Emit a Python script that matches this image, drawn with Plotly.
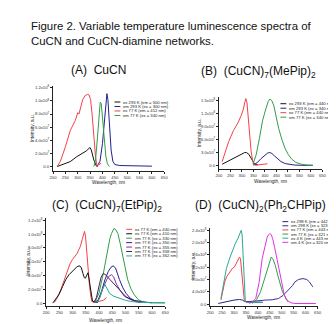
import plotly.graph_objects as go

W, H = 336, 324

# ---------------- DATA (intensities in units of 1e7) ----------------
# Panel A: CuCN
a_ex293_nm = [217, 240, 270, 296, 310, 336, 349, 355, 365, 375, 380]
a_ex293_v = [0, 0.3, 0.75, 1.5, 1.8, 2.4, 2.9, 2.5, 1.0, 0.1, 0]
a_em293_nm = [378, 390, 400, 408, 414, 418, 422, 428, 435, 442, 450, 470, 500, 550, 600]
a_em293_v = [0, 0.8, 3.5, 7.5, 10.5, 11.1, 10.2, 6.5, 2.5, 0.8, 0.3, 0.15, 0.1, 0.05, 0.05]
a_ex77_nm = [217, 230, 250, 270, 290, 300, 305, 312, 320, 330, 340, 346, 352, 358, 365, 372, 378, 385, 395]
a_ex77_v = [0, 0.8, 3.0, 5.5, 7.0, 8.2, 8.0, 9.0, 10.2, 10.8, 11.0, 10.9, 10.2, 8.0, 4.5, 1.5, 0, 0.3, 0.5]
a_em77_nm = [365, 372, 380, 386, 391, 395, 400, 407, 414, 420, 428]
a_em77_v = [0, 1.0, 4.5, 8.5, 9.8, 9.6, 7.5, 4.0, 1.5, 0.4, 0]
a_labels = ["ex 293 K (em = 500 nm)", "em 293 K (ex = 300 nm)",
            "ex 77 K (em = 412 nm)", "em 77 K (ex = 340 nm)"]

# Panel B: (CuCN)7(MePip)2
b_ex293_nm = [214, 240, 265, 290, 312, 320, 330, 342, 355, 369]
b_ex293_v = [0.3, 1.0, 1.7, 2.4, 3.0, 3.0, 2.6, 1.5, 0.3, 0.15]
b_em293_nm = [348, 365, 383, 400, 412, 421, 430, 442, 453, 470, 488, 510, 530, 560, 608]
b_em293_v = [0.1, 0.6, 1.6, 2.4, 2.9, 3.0, 2.8, 2.2, 1.6, 0.9, 0.45, 0.2, 0.1, 0.05, 0.05]
b_ex77_nm = [214, 228, 242, 263, 284, 296, 305, 312, 317, 322, 327, 334, 340, 347, 352, 362, 380, 400, 411]
b_ex77_v = [0.9, 3.0, 5.5, 8.1, 10.0, 11.5, 12.8, 14.5, 15.5, 14.5, 11.5, 6.0, 3.2, 1.0, 0.15, 0.1, 0.2, 0.3, 0.4]
b_em77_nm = [348, 362, 376, 390, 404, 414, 422, 430, 439, 450, 460, 475, 488, 502, 516, 535, 558, 585, 608]
b_em77_v = [0.3, 2.5, 6.3, 10.5, 13.1, 14.8, 15.4, 15.0, 13.8, 11.0, 8.5, 5.8, 3.9, 2.5, 1.5, 0.7, 0.3, 0.1, 0.05]
b_labels = ["ex 293 K (em = 440 nm)", "em 293 K (ex = 340 nm)",
            "ex 77 K (em = 440 nm)", "em 77 K (ex = 340 nm)"]

# Panel C: (CuCN)7(EtPip)2
c_ex77a_nm = [231, 243, 255, 268, 280, 290, 299, 308, 317, 324, 329, 336, 342, 345, 349, 354, 359, 364, 369, 373, 385, 400, 416, 428]
c_ex77a_v = [0.1, 0.8, 1.9, 3.4, 4.8, 5.7, 6.3, 6.8, 7.2, 7.8, 8.2, 9.2, 10.1, 10.4, 9.6, 6.7, 4.0, 2.4, 0.9, 0.2, 0.1, 0.2, 0.4, 0.8]
c_ex77b_nm = [225, 237, 249, 262, 274, 286, 299, 308, 317, 327, 333, 339, 344, 348, 353, 358, 362, 366, 370, 375, 385, 395]
c_ex77b_v = [0, 0.7, 1.3, 2.4, 3.4, 4.1, 4.6, 5.0, 5.3, 5.4, 5.1, 4.3, 3.7, 3.6, 4.1, 4.4, 3.5, 2.4, 1.0, 0.3, 0.15, 0.1]
c_em330_nm = [385, 400, 416, 425, 434, 441, 447, 452, 456, 462, 471, 480, 490, 500, 508, 520, 533, 548, 564, 600, 650]
c_em330_v = [0.2, 1.5, 4.3, 6.3, 8.2, 9.4, 10.1, 10.6, 10.8, 10.7, 10.1, 8.6, 6.7, 4.8, 3.4, 2.1, 1.2, 0.5, 0.2, 0.05, 0.02]
c_em350_nm = [385, 397, 410, 422, 435, 445, 453, 462, 477, 490, 502, 518, 533, 555, 576, 600]
c_em350_v = [0.1, 0.5, 1.8, 3.4, 4.6, 5.2, 5.4, 5.1, 3.4, 2.2, 1.4, 0.7, 0.4, 0.2, 0.1, 0.05]
c_em355_nm = [385, 400, 415, 430, 440, 447, 455, 465, 477, 495, 514, 535, 560]
c_em355_v = [0.1, 0.6, 2.2, 3.5, 4.0, 4.1, 3.8, 2.8, 2.0, 1.0, 0.6, 0.3, 0.1]
c_em358_nm = [380, 390, 400, 408, 416, 425, 434, 450, 465, 485, 502, 520, 539, 560]
c_em358_v = [0.1, 0.8, 2.5, 3.8, 4.3, 4.1, 3.7, 3.0, 2.4, 1.6, 0.9, 0.5, 0.2, 0.1]
c_em362_nm = [385, 397, 405, 413, 422, 430, 440, 455, 477, 500, 527, 560, 600, 650]
c_em362_v = [0.1, 0.3, 1.0, 2.0, 2.7, 2.2, 1.4, 1.0, 0.7, 0.4, 0.2, 0.1, 0.05, 0.05]
c_labels = ["ex 77 K (em = 440 nm)", "ex 77 K (em = 410 nm)", "em 77 K (ex = 330 nm)",
            "em 77 K (ex = 350 nm)", "em 77 K (ex = 355 nm)", "em 77 K (ex = 358 nm)",
            "em 77 K (ex = 362 nm)"]

# Panel D: (CuCN)2(Ph2CHPip)
d_ex298_nm = [234, 260, 282, 300, 323, 335, 343, 360, 377, 400, 420]
d_ex298_v = [0.2, 0.7, 1.1, 1.3, 1.5, 1.3, 0.9, 0.7, 0.6, 0.6, 0.6]
d_em298_nm = [350, 380, 410, 432, 460, 486, 505, 527, 545, 555, 570, 589, 605, 616, 630]
d_em298_v = [0.7, 1.0, 1.2, 1.3, 1.4, 1.8, 2.8, 4.5, 6.0, 7.2, 8.0, 8.3, 8.0, 7.2, 5.6]
d_ex77_nm = [245, 253, 261, 270, 282, 292, 302, 312, 318, 323, 327, 330, 334, 338, 343, 350, 370, 400, 420]
d_ex77_v = [1.3, 4.0, 7.2, 9.0, 10.5, 11.5, 12.1, 13.5, 14.8, 15.3, 14.8, 12.0, 8.3, 4.0, 1.3, 0.6, 0.5, 0.6, 0.5]
d_em77_nm = [377, 395, 411, 425, 439, 448, 456, 464, 473, 483, 493, 503, 514, 527]
d_em77_v = [0.2, 1.5, 4.0, 7.5, 11.6, 14.0, 15.3, 14.5, 12.6, 9.5, 6.7, 4.0, 2.4, 0.7]
d_ex4_nm = [245, 256, 268, 282, 295, 306, 316, 324, 330, 334, 337, 340, 343, 347, 352, 360, 380, 400, 420]
d_ex4_v = [1.8, 6.5, 11.6, 15.0, 18.0, 19.8, 21.3, 23.0, 24.0, 22.5, 18.0, 11.0, 6.2, 1.3, 0.5, 0.5, 0.4, 0.5, 0.5]
d_em4_nm = [364, 378, 391, 405, 418, 430, 439, 445, 450, 456, 462, 470, 480, 490, 500, 510, 520, 540, 555, 600, 643]
d_em4_v = [0.2, 0.8, 1.8, 7.0, 14.8, 19.5, 21.8, 22.6, 22.9, 22.6, 21.3, 18.5, 14.8, 10.0, 6.2, 3.2, 1.3, 0.4, 0.2, 0.2, 0.2]
d_labels = ["ex 298 K (em = 442 nm)", "em 298 K (ex = 323 nm)", "ex 77 K (em = 443 nm)",
            "em 77 K (ex = 321 nm)", "ex 4 K (em = 443 nm)", "em 4 K (ex = 320 nm)"]

x_ticks = [200, 250, 300, 350, 400, 450, 500, 550, 600, 650]
a_yticks = [0, 2e7, 4e7, 6e7, 8e7, 1.0e8, 1.2e8]
a_yticktext = ["0.0", "2.0x10<sup>7</sup>", "4.0x10<sup>7</sup>", "6.0x10<sup>7</sup>",
               "8.0x10<sup>7</sup>", "1.0x10<sup>8</sup>", "1.2x10<sup>8</sup>"]
b_yticks = [0, 3e7, 6e7, 9e7, 1.2e8, 1.5e8]
b_yticktext = ["0.0", "3.0x10<sup>7</sup>", "6.0x10<sup>7</sup>", "9.0x10<sup>7</sup>",
               "1.2x10<sup>8</sup>", "1.5x10<sup>8</sup>"]
c_yticks = a_yticks
c_yticktext = a_yticktext
d_yticks = [0, 4e7, 8e7, 1.2e8, 1.6e8, 2.0e8, 2.4e8]
d_yticktext = ["0.0", "4.0x10<sup>7</sup>", "8.0x10<sup>7</sup>", "1.2x10<sup>8</sup>",
               "1.6x10<sup>8</sup>", "2.0x10<sup>8</sup>", "2.4x10<sup>8</sup>"]

titles = ["(A)  CuCN", "(B)  (CuCN)<sub>7</sub>(MePip)<sub>2</sub>",
          "(C)  (CuCN)<sub>7</sub>(EtPip)<sub>2</sub>", "(D)  (CuCN)<sub>2</sub>(Ph<sub>2</sub>CHPip)"]

# ---------------- FIGURE ----------------
BLACK = "#111111"; NAVY = "#22228a"; RED = "#f5404a"; GREEN = "#2f9e4a"
PURPLE = "#7a2fa8"; DPURPLE = "#4a1f4a"; TEAL = "#2aa79a"; MAG = "#e62ee6"; BLUE2 = "#3a2fa0"

panels = [
    dict(ax="", series=[(a_ex293_nm, a_ex293_v, BLACK), (a_em293_nm, a_em293_v, NAVY),
                        (a_ex77_nm, a_ex77_v, RED), (a_em77_nm, a_em77_v, GREEN)],
         labels=a_labels, yt=a_yticks, ytt=a_yticktext,
         px=(42, 156), py=(77, 162), y0=158, ytop=79,
         leg=(105, 93.3, 4.5), title=(89, 61), ytitle=(21, 120), xtitle=(99, 174.5)),
    dict(ax="2", series=[(b_ex293_nm, b_ex293_v, BLACK), (b_em293_nm, b_em293_v, NAVY),
                         (b_ex77_nm, b_ex77_v, RED), (b_em77_nm, b_em77_v, GREEN)],
         labels=b_labels, yt=b_yticks, ytt=b_yticktext,
         px=(212, 318), py=(88, 160), y0=157, ytop=92,
         leg=(275, 95, 4.5), title=(252, 63), ytitle=(192, 124), xtitle=(265, 173.5)),
    dict(ax="3", series=[(c_ex77a_nm, c_ex77a_v, RED), (c_ex77b_nm, c_ex77b_v, BLACK),
                         (c_em330_nm, c_em330_v, GREEN), (c_em350_nm, c_em350_v, NAVY),
                         (c_em355_nm, c_em355_v, PURPLE), (c_em358_nm, c_em358_v, DPURPLE),
                         (c_em362_nm, c_em362_v, TEAL)],
         labels=c_labels, yt=c_yticks, ytt=c_yticktext,
         px=(35, 157), py=(210, 298), y0=295, ytop=212,
         leg=(117, 221, 4.45), title=(97, 198), ytitle=(17, 254), xtitle=(96, 312)),
    dict(ax="4", series=[(d_ex298_nm, d_ex298_v, NAVY), (d_em298_nm, d_em298_v, BLUE2),
                         (d_ex77_nm, d_ex77_v, RED), (d_em77_nm, d_em77_v, GREEN),
                         (d_ex4_nm, d_ex4_v, TEAL), (d_em4_nm, d_em4_v, MAG)],
         labels=d_labels, yt=d_yticks, ytt=d_yticktext,
         px=(203, 313), py=(220, 298), y0=296, ytop=222,
         leg=(277, 213.3, 4.15), title=(255, 198), ytitle=(186, 258), xtitle=(258, 309)),
]

fig = go.Figure()
layout = dict(width=W, height=H, margin=dict(l=0, r=0, t=0, b=0),
              paper_bgcolor="white", plot_bgcolor="white", showlegend=False,
              font=dict(family="Arial, Liberation Sans, sans-serif", color="#222"))
annotations = []
shapes = []

def px2x(p):
    return p / W

def py2y(p):
    return 1 - p / H

for P in panels:
    ax = P["ax"]
    for (nm, v, col), lab in zip(P["series"], P["labels"]):
        fig.add_trace(go.Scatter(x=nm, y=[val * 1e7 for val in v], mode="lines", name=lab,
                                 line=dict(color=col, width=1),
                                 xaxis="x" + ax, yaxis="y" + ax))
    x0p, x1p = P["px"]
    ytp, ybp = P["py"]
    ytv = P["yt"][-1]
    scale = (P["y0"] - P["ytop"]) / ytv  # px per unit
    ymin = -(ybp - P["y0"]) / scale
    ymax = (P["y0"] - ytp) / scale
    layout["xaxis" + ax] = dict(domain=[px2x(x0p), px2x(x1p)], range=[200, 650],
                                anchor="y" + ax, showline=True, linecolor="#222", linewidth=1,
                                ticks="outside", ticklen=2, tickwidth=0.8, tickcolor="#222",
                                tickvals=x_ticks, tickfont=dict(size=4.2, color="#333"),
                                showgrid=False, zeroline=False)
    layout["yaxis" + ax] = dict(domain=[py2y(ybp), py2y(ytp)], range=[ymin, ymax],
                                anchor="x" + ax, showline=True, linecolor="#222", linewidth=1,
                                ticks="outside", ticklen=2, tickwidth=0.8, tickcolor="#222",
                                tickvals=P["yt"], ticktext=P["ytt"],
                                tickfont=dict(size=4.2, color="#333"),
                                showgrid=False, zeroline=False)
    # subplot title
    tx, ty = P["title"]
    annotations.append(dict(x=px2x(tx), y=py2y(ty), xref="paper", yref="paper",
                            text=titles[int(ax or 1) - 1], showarrow=False,
                            xanchor="center", yanchor="middle",
                            font=dict(size=12, color="#111")))
    # axis titles
    yx, yy = P["ytitle"]
    annotations.append(dict(x=px2x(yx), y=py2y(yy), xref="paper", yref="paper",
                            text="Intensity, a.u.", showarrow=False, textangle=-90,
                            xanchor="center", yanchor="middle", font=dict(size=4.8, color="#222")))
    xx, xy = P["xtitle"]
    annotations.append(dict(x=px2x(xx), y=py2y(xy), xref="paper", yref="paper",
                            text="Wavelength, nm", showarrow=False,
                            xanchor="center", yanchor="middle", font=dict(size=4.6, color="#222")))
    # legend (drawn manually: small line + label)
    lx, ly, dy = P["leg"]
    for i, ((nm, v, col), lab) in enumerate(zip(P["series"], P["labels"])):
        yy_ = ly + i * dy
        shapes.append(dict(type="line", xref="paper", yref="paper",
                           x0=px2x(lx), x1=px2x(lx + 6), y0=py2y(yy_), y1=py2y(yy_),
                           line=dict(color=col, width=1)))
        annotations.append(dict(x=px2x(lx + 7), y=py2y(yy_), xref="paper", yref="paper",
                                text=lab, showarrow=False, xanchor="left", yanchor="middle",
                                font=dict(size=4.2, color="#222")))

# Figure caption
annotations.append(dict(x=px2x(17), y=py2y(9), xref="paper", yref="paper",
                        text="Figure 2. Variable temperature luminescence spectra of<br>CuCN and CuCN-diamine networks.",
                        showarrow=False, xanchor="left", yanchor="top", align="left",
                        font=dict(size=11.4, color="#111")))

layout["annotations"] = annotations
layout["shapes"] = shapes
fig.update_layout(**layout)
fig.write_html("out.html")
